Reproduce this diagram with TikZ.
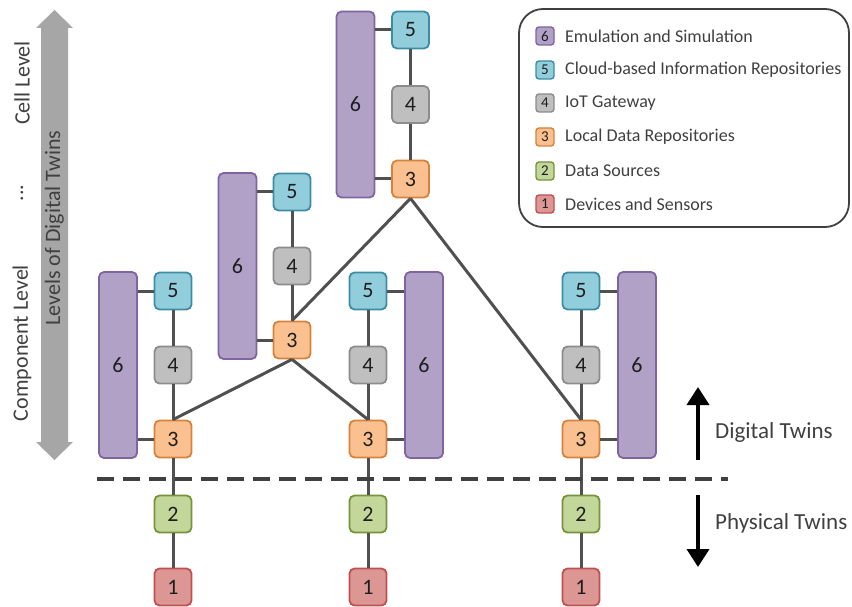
\documentclass[tikz,border=0pt]{standalone}
\usepackage{fontspec}
\setmainfont{Carlito}
\usetikzlibrary{arrows.meta}

\definecolor{fillsix}{RGB}{178,161,199}
\definecolor{edgesix}{RGB}{128,100,162}
\definecolor{fillfive}{RGB}{146,205,220}
\definecolor{edgefive}{RGB}{60,140,165}
\definecolor{fillfour}{RGB}{191,191,191}
\definecolor{edgefour}{RGB}{140,140,140}
\definecolor{fillthree}{RGB}{250,192,143}
\definecolor{edgethree}{RGB}{215,130,60}
\definecolor{filltwo}{RGB}{196,215,155}
\definecolor{edgetwo}{RGB}{119,147,60}
\definecolor{fillone}{RGB}{220,150,148}
\definecolor{edgeone}{RGB}{192,80,77}
\definecolor{wire}{RGB}{80,80,80}
\definecolor{numtext}{RGB}{30,30,30}
\definecolor{labeltext}{RGB}{64,64,64}
\definecolor{levelarrow}{RGB}{166,166,166}

\tikzset{
  unit/.style={draw, rounded corners=5pt, line width=1.8pt, inner sep=0pt,
    minimum width=37pt, minimum height=37pt, text=numtext,
    font=\fontsize{22}{22}\selectfont},
  tallunit/.style={unit, minimum width=38pt, minimum height=186pt},
  lvsix/.style={fill=fillsix, draw=edgesix},
  lvfive/.style={fill=fillfive, draw=edgefive},
  lvfour/.style={fill=fillfour, draw=edgefour},
  lvthree/.style={fill=fillthree, draw=edgethree},
  lvtwo/.style={fill=filltwo, draw=edgetwo},
  lvone/.style={fill=fillone, draw=edgeone},
  keybox/.style={draw, rounded corners=3pt, line width=1.4pt, inner sep=0pt,
    minimum width=18pt, minimum height=18pt, text=numtext,
    font=\fontsize{15}{15}\selectfont},
  keytext/.style={anchor=west, text=labeltext, inner sep=0pt,
    font=\fontsize{18}{18}\selectfont},
  link/.style={draw=wire, line width=3pt},
  sidetext/.style={text=labeltext, inner sep=0pt, rotate=90,
    font=\fontsize{22}{22}\selectfont},
  twintext/.style={anchor=west, text=labeltext, inner sep=0pt,
    font=\fontsize{23}{23}\selectfont},
  twinarrow/.style={line width=3.8pt, -{Triangle[length=18pt,width=22pt]}},
}

\begin{document}
\begin{tikzpicture}[x=1pt,y=-1pt]
\useasboundingbox (0,0) rectangle (852,607);

% ---- levels arrow on the left ----
\fill[levelarrow] (54.5,10) -- (73,28) -- (68,28) -- (68,442) -- (73,442)
  -- (54.5,460) -- (36,442) -- (41,442) -- (41,28) -- (36,28) -- cycle;
\node[sidetext] (levels) at (54.5,228) {Levels of Digital Twins};
\node[sidetext] (cell) at (22,83) {Cell Level};
\node[sidetext] (dots) at (22,193) {...};
\node[sidetext] (comp) at (22,343) {Component Level};

% ---- component column 1 ----
\node[tallunit,lvsix]  (a6) at (118,365) {6};
\node[unit,lvfive]  (a5) at (173,291) {5};
\node[unit,lvfour]  (a4) at (173,365) {4};
\node[unit,lvthree] (a3) at (173,439) {3};
\node[unit,lvtwo]   (a2) at (173,514) {2};
\node[unit,lvone]   (a1) at (173,587) {1};

% ---- component column 2 ----
\node[tallunit,lvsix]  (b6) at (424,365) {6};
\node[unit,lvfive]  (b5) at (368,291) {5};
\node[unit,lvfour]  (b4) at (368,365) {4};
\node[unit,lvthree] (b3) at (368,439) {3};
\node[unit,lvtwo]   (b2) at (368,514) {2};
\node[unit,lvone]   (b1) at (368,587) {1};

% ---- component column 3 ----
\node[tallunit,lvsix]  (c6) at (637,365) {6};
\node[unit,lvfive]  (c5) at (581,291) {5};
\node[unit,lvfour]  (c4) at (581,365) {4};
\node[unit,lvthree] (c3) at (581,439) {3};
\node[unit,lvtwo]   (c2) at (581,514) {2};
\node[unit,lvone]   (c1) at (581,587) {1};

% ---- intermediate level ----
\node[tallunit,lvsix]  (m6) at (237.5,266) {6};
\node[unit,lvfive]  (m5) at (292,192) {5};
\node[unit,lvfour]  (m4) at (292,266) {4};
\node[unit,lvthree] (m3) at (292,340) {3};

% ---- cell level ----
\node[tallunit,lvsix]  (t6) at (355.5,104.5) {6};
\node[unit,lvfive]  (t5) at (410.5,30) {5};
\node[unit,lvfour]  (t4) at (410.5,104.5) {4};
\node[unit,lvthree] (t3) at (410.5,179) {3};

% ---- vertical chains ----
\foreach \p in {a,b,c}{
  \draw[link] (\p5.south) -- (\p4.north);
  \draw[link] (\p4.south) -- (\p3.north);
  \draw[link] (\p3.south) -- (\p2.north);
  \draw[link] (\p2.south) -- (\p1.north);
}
\foreach \p in {m,t}{
  \draw[link] (\p5.south) -- (\p4.north);
  \draw[link] (\p4.south) -- (\p3.north);
}

% ---- simulation blocks to repositories ----
\foreach \p in {a,m,t}{
  \draw[link] (\p6.east |- \p5) -- (\p5.west);
  \draw[link] (\p6.east |- \p3) -- (\p3.west);
}
\foreach \p in {b,c}{
  \draw[link] (\p5.east) -- (\p6.west |- \p5);
  \draw[link] (\p3.east) -- (\p6.west |- \p3);
}

% ---- links between levels ----
\draw[link] (a3.north) -- (m3.south);
\draw[link] (m3.south) -- (b3.north);
\draw[link] (m3.north) -- (t3.south);
\draw[link] (t3.south) -- (c3.north);

% ---- digital / physical boundary ----
\coordinate (splitL) at (97,479);
\coordinate (splitR) at (728,479);
\draw[draw=labeltext, line width=3.4pt, dash pattern=on 17pt off 9pt] (splitL) -- (splitR);

\coordinate (upfrom) at (698,460);
\coordinate (upto) at (698,387);
\coordinate (downfrom) at (698,495);
\coordinate (downto) at (698,567);
\draw[twinarrow] (upfrom) -- (upto);
\draw[twinarrow] (downfrom) -- (downto);
\node[twintext] (digital) at (715,432) {Digital Twins};
\node[twintext] (physical) at (715,523) {Physical Twins};

% ---- legend ----
\draw[draw=labeltext, line width=1.8pt, rounded corners=24pt] (519,9) rectangle (849,227);
\node[keybox,lvsix]   (k6) at (545,36)  {6};
\node[keybox,lvfive]  (k5) at (545,70)  {5};
\node[keybox,lvfour]  (k4) at (545,103) {4};
\node[keybox,lvthree] (k3) at (545,137) {3};
\node[keybox,lvtwo]   (k2) at (545,171) {2};
\node[keybox,lvone]   (k1) at (545,204) {1};
\node[keytext] (t6k) at (565,36)  {Emulation and Simulation};
\node[keytext] (t5k) at (565,70)  {Cloud-based Information Repositories};
\node[keytext] (t4k) at (565,103) {IoT Gateway};
\node[keytext] (t3k) at (565,137) {Local Data Repositories};
\node[keytext] (t2k) at (565,171) {Data Sources};
\node[keytext] (t1k) at (565,204) {Devices and Sensors};
\end{tikzpicture}
\end{document}
